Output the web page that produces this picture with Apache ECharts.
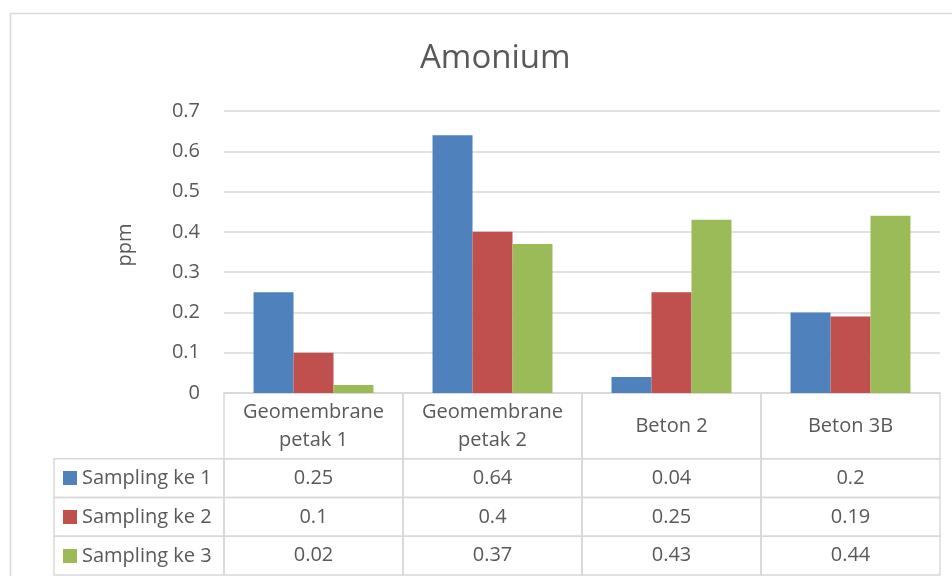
<!DOCTYPE html>
<html>
<head>
<meta charset="utf-8">
<script src="https://cdn.jsdelivr.net/npm/echarts@6/dist/echarts.min.js"></script>
<style>
html,body{margin:0;padding:0;background:#fff;}
#c{width:952px;height:576px;}
</style>
</head>
<body>
<div id="c"></div>
<script>
const categories = ['Geomembrane petak 1', 'Geomembrane petak 2', 'Beton 2', 'Beton 3B'];
const seriesNames = ['Sampling ke 1', 'Sampling ke 2', 'Sampling ke 3'];
const sampling1 = [0.25, 0.64, 0.04, 0.2];
const sampling2 = [0.1, 0.4, 0.25, 0.19];
const sampling3 = [0.02, 0.37, 0.43, 0.44];
const colors = ['#4f81bd', '#c0504d', '#9bbb59'];
const yTicks = [0, 0.1, 0.2, 0.3, 0.4, 0.5, 0.6, 0.7];

const allSeries = [sampling1, sampling2, sampling3];
const FONT = '"Open Sans", "Liberation Sans", sans-serif';
const TXT = '#595959';
const LINE = '#d9d9d9';

// table cells: [categoryIndex, rowIndex, value]
const tableData = [];
categories.forEach((c, i) => {
  allSeries.forEach((arr, s) => tableData.push([i, s, arr[i]]));
});
const HEADER = 1.7; // header row height in table units (data rows = 1)

const chart = echarts.init(document.getElementById('c'));
chart.setOption({
  animation: false,
  color: colors,
  title: {
    text: 'Amonium',
    left: 420, top: 39, padding: 0,
    textStyle: { fontFamily: FONT, fontSize: 33, fontWeight: 'normal', color: TXT, lineHeight: 40 }
  },
  legend: {
    data: seriesNames,
    orient: 'vertical',
    left: 63, top: 468,
    itemWidth: 14, itemHeight: 14, itemGap: 19,
    icon: 'rect', selectedMode: false, padding: 0,
    textStyle: { fontFamily: FONT, fontSize: 20, color: TXT, lineHeight: 20 }
  },
  graphic: [{
    type: 'rect', left: 8, top: 11, z: -10, silent: true,
    shape: { width: 1000, height: 600 },
    style: { fill: 'none', stroke: LINE, lineWidth: 1.5 }
  }],
  grid: [
    { left: 224, right: 12, top: 111, height: 282 },
    { left: 224, right: 12, top: 393, height: 182 }
  ],
  xAxis: [
    {
      type: 'category', gridIndex: 0, data: categories,
      axisLine: { show: true, lineStyle: { color: LINE, width: 1.5 } },
      axisTick: { show: false },
      axisLabel: {
        interval: 0, margin: 33, verticalAlign: 'middle',
        fontFamily: FONT, fontSize: 20, color: TXT, lineHeight: 28,
        formatter: v => v.replace(' petak', '\npetak')
      }
    },
    { type: 'category', gridIndex: 1, data: categories, show: false }
  ],
  yAxis: [
    {
      type: 'value', gridIndex: 0, min: 0, max: 0.7, interval: 0.1,
      name: 'ppm', nameLocation: 'middle', nameGap: 89, nameRotate: 90,
      nameTextStyle: { fontFamily: FONT, fontSize: 20, color: TXT, padding: [0, 0, 0, 14] },
      axisLine: { show: false }, axisTick: { show: false },
      axisLabel: {
        margin: 24, fontFamily: FONT, fontSize: 20, color: TXT,
        formatter: v => { const t = yTicks.find(x => Math.abs(x - v) < 1e-9); return t === undefined ? '' : String(t); }
      },
      splitLine: { lineStyle: { color: LINE, width: 1.5 } }
    },
    { type: 'value', gridIndex: 1, min: 0, max: HEADER + 3, inverse: true, show: false }
  ],
  series: [
    ...allSeries.map((arr, s) => ({
      type: 'bar', name: seriesNames[s], data: arr,
      xAxisIndex: 0, yAxisIndex: 0,
      barGap: '0%', barCategoryGap: '33%'
    })),
    {
      type: 'custom', xAxisIndex: 1, yAxisIndex: 1, data: tableData,
      clip: false, silent: true,
      renderItem: (params, api) => {
        const i = api.value(0), s = api.value(1), v = api.value(2);
        const cw = api.size([1, 0])[0];
        const cx = api.coord([i, 0])[0];
        const x0 = cx - cw / 2;
        const yTop = api.coord([i, HEADER + s])[1];
        const yBot = api.coord([i, HEADER + s + 1])[1];
        const lineStyle = { fill: 'none', stroke: LINE, lineWidth: 1.5 };
        const children = [
          { type: 'rect', shape: { x: x0, y: yTop, width: cw, height: yBot - yTop }, style: lineStyle },
          { type: 'text', style: { text: String(v), x: cx, y: (yTop + yBot) / 2, textAlign: 'center', textVerticalAlign: 'middle', fontFamily: FONT, fontSize: 20, fill: TXT } }
        ];
        if (s === 0) {
          const hTop = api.coord([i, 0])[1];
          children.push({ type: 'rect', shape: { x: x0, y: hTop, width: cw, height: yTop - hTop }, style: lineStyle });
        }
        if (i === 0) {
          const lx = params.coordSys.x - 170;
          children.push({ type: 'rect', shape: { x: lx, y: yTop, width: params.coordSys.x - lx, height: yBot - yTop }, style: lineStyle });
        }
        return { type: 'group', children };
      }
    }
  ]
});
</script>
</body>
</html>
